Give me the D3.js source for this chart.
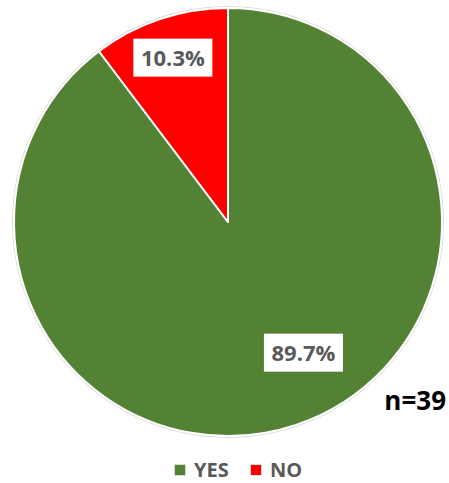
<!DOCTYPE html>
<html><head><meta charset="utf-8">
<script src="https://cdn.jsdelivr.net/npm/d3@7"></script>
<style>body{margin:0;background:#fff}svg{display:block}</style>
</head><body>
<script>
const categories = ["YES", "NO"];
const values = [89.7, 10.3];
const colors = ["#548235", "#FF0000"];
const sampleLabel = "n=39";

const W = 449, H = 483;
const cx = 228, cy = 222, R = 214;
const FONT = "Open Sans, Liberation Sans, sans-serif";
const svg = d3.select("body").append("svg").attr("width", W).attr("height", H);
const g = svg.append("g").attr("transform", `translate(${cx},${cy})`);

const pie = d3.pie().sort(null).value(d => d.v);
const data = categories.map((c, i) => ({c, v: values[i], col: colors[i]}));
const arcs = pie(data);
const arc = d3.arc().innerRadius(0).outerRadius(R);

g.append("circle").attr("r", R + 1.5).attr("fill", "none").attr("stroke", "#d9d9d9").attr("stroke-width", 1);
g.selectAll("path.slice").data(arcs).join("path").attr("class", "slice")
  .attr("d", arc).attr("fill", d => d.data.col)
  .attr("stroke", "#fff").attr("stroke-width", 2).attr("stroke-linejoin", "round");

// label placement (radius fraction, angle offset in rad)
const labelPos = {YES: {r: 0.705, off: -0.2}, NO: {r: 0.81, off: 0}};
const fmt = d => d3.format(".1f")(d) + "%";
arcs.forEach(a => {
  const p = labelPos[a.data.c];
  const ang = (a.startAngle + a.endAngle) / 2 + p.off;
  const x = Math.sin(ang) * R * p.r, y = -Math.cos(ang) * R * p.r;
  const lg = g.append("g").attr("transform", `translate(${x},${y})`);
  lg.append("rect").attr("x", -39.5).attr("y", -19).attr("width", 79).attr("height", 38).attr("fill", "#fff");
  lg.append("text").text(fmt(a.data.v))
    .attr("text-anchor", "middle").attr("y", 8)
    .attr("font-family", FONT).attr("font-weight", "bold")
    .attr("font-size", 22).attr("fill", "#595959");
});

svg.append("text").attr("x", 446).attr("y", 410).attr("text-anchor", "end")
  .attr("font-family", FONT).attr("font-weight", "bold")
  .attr("font-size", 26).attr("fill", "#000").text(sampleLabel);

// legend
const leg = svg.append("g").attr("transform", "translate(174,464)");
const legX = [0, 76];
categories.forEach((c, i) => {
  const li = leg.append("g").attr("transform", `translate(${legX[i]},0)`);
  li.append("rect").attr("x", 0.5).attr("y", 0.5).attr("width", 11).attr("height", 11)
    .attr("fill", colors[i]).attr("stroke", "#d9d9d9").attr("stroke-width", 1);
  li.append("text").attr("x", 20).attr("y", 12.5)
    .attr("font-family", FONT).attr("font-weight", "bold")
    .attr("font-size", 20).attr("fill", "#595959").text(c);
});
</script>
</body></html>
